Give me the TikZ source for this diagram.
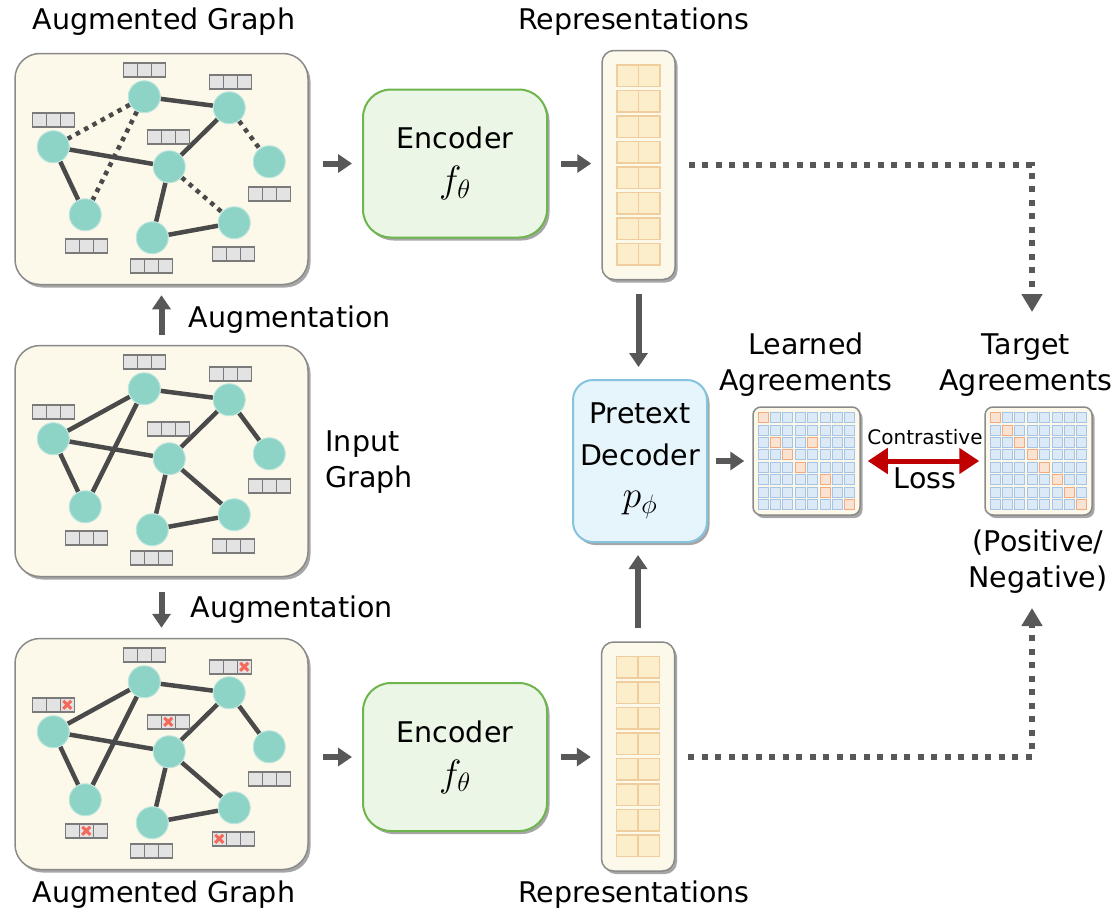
\RequirePackage{fix-cm}
\documentclass[tikz,border=0pt]{standalone}
\usepackage{fontspec}
\setmainfont{DejaVu Sans}
\usetikzlibrary{positioning,calc,shadows,arrows.meta}

\definecolor{graphfill}{HTML}{FDF9EA}
\definecolor{boxline}{HTML}{8A8A8A}
\definecolor{vtxfill}{HTML}{8DD3C6}
\definecolor{edgegray}{HTML}{4A4A4A}
\definecolor{featfill}{HTML}{E3E3E3}
\definecolor{featdraw}{HTML}{7A7A7A}
\definecolor{encfill}{HTML}{EBF6E7}
\definecolor{encline}{HTML}{6DB54C}
\definecolor{decfill}{HTML}{E6F5FB}
\definecolor{decline}{HTML}{86C3DF}
\definecolor{cellfill}{HTML}{FDEECB}
\definecolor{cellline}{HTML}{EFCD9C}
\definecolor{bluefill}{HTML}{DCE9F6}
\definecolor{blueline}{HTML}{A6C4E6}
\definecolor{orfill}{HTML}{FBE3D3}
\definecolor{orline}{HTML}{F2AA7E}
\definecolor{arrgray}{HTML}{585858}
\definecolor{lossred}{HTML}{C00000}
\definecolor{crossred}{HTML}{F4695A}

\pgfdeclarelayer{back}
\pgfdeclarelayer{edges}
\pgfsetlayers{back,edges,main}

% big math symbol under a box title
\newcommand{\bigmath}[1]{{\fontsize{38}{38}\selectfont$#1$}}

% graph inside box #2, node names start with #1
\newcommand{\drawgraph}[2]{
  \begin{scope}[shift={(#2.north west)}]
    \foreach \n/\x/\y/\fx/\fy in {1/130/44/130/17, 2/215/55/216/29, 3/39/94/39/67, 4/155/114/154/84,
                                   5/255/109/255/141, 6/71/162/72/193, 7/138/185/137/213, 8/220/170/219/201}{
      \node[vtx] (#1v\n) at (\x,\y) {};
      \node[feat] (#1f\n) at (\fx,\fy) {};
      \draw[featsep] ([xshift=-7pt]#1f\n.north) -- ([xshift=-7pt]#1f\n.south)
                     ([xshift=7pt]#1f\n.north) -- ([xshift=7pt]#1f\n.south);
    }
  \end{scope}
}

% 8x2 cells of a representation
\newcommand{\reprcells}[1]{
  \foreach \k in {0,...,7}
    \foreach \s in {-1,1}
      \draw[rcell] ([xshift=\s*10.75pt,yshift=(3.5-\k)*25.5pt]#1.center) +(-10.75,-10.75) rectangle +(10.75,10.75);
}

% 8x8 agreement matrix, #2 = orange cells row/col
\newcommand{\matcells}[2]{
  \foreach \r in {0,...,7}
    \foreach \c in {0,...,7}
      \draw[bcell] ([xshift=(\c-3.5)*12.4pt,yshift=(3.5-\r)*12.4pt]#1.center) +(-5,-5) rectangle +(5,5);
  \foreach \r/\c in {#2}
    \draw[ocell] ([xshift=(\c-3.5)*12.4pt,yshift=(3.5-\r)*12.4pt]#1.center) +(-5,-5) rectangle +(5,5);
}

\begin{document}
\begin{tikzpicture}[x=1pt,y=-1pt,
  every node/.style={font=\fontsize{28.5}{36}\selectfont},
  soft/.style={drop shadow={shadow xshift=2.5pt,shadow yshift=-3pt,opacity=.35,fill=black}},
  gbox/.style={draw=boxline,line width=1.5pt,fill=graphfill,rounded corners=25pt,
               minimum width=293pt,minimum height=231pt,soft},
  vtx/.style={circle,fill=vtxfill,draw=vtxfill!60!white,line width=1pt,minimum size=32pt,inner sep=0pt},
  feat/.style={rectangle,draw=featdraw,fill=featfill,line width=1.5pt,minimum width=42pt,
               minimum height=14pt,inner sep=0pt},
  featsep/.style={draw=featdraw,line width=1.5pt},
  edge/.style={draw=edgegray,line width=4.5pt},
  dotedge/.style={dash pattern=on 4.5pt off 5pt},
  xmark/.style={draw=crossred,line width=3pt},
  encbox/.style={draw=encline,line width=2pt,fill=encfill,rounded corners=28pt,minimum width=184pt,
                 minimum height=148pt,align=center,soft,font=\fontsize{28.5}{44}\selectfont},
  decbox/.style={draw=decline,line width=2pt,fill=decfill,rounded corners=20pt,minimum width=134pt,
                 minimum height=162pt,align=center,soft,font=\fontsize{28.5}{42}\selectfont},
  reprbox/.style={draw=boxline,line width=1.5pt,fill=graphfill,rounded corners=12pt,minimum width=73pt,
                  minimum height=229pt,soft},
  rcell/.style={draw=cellline,fill=cellfill,line width=1.5pt},
  matbox/.style={draw=boxline,line width=1.5pt,fill=graphfill,rounded corners=8pt,minimum width=107pt,
                 minimum height=108pt,soft},
  bcell/.style={draw=blueline,fill=bluefill,line width=1pt},
  ocell/.style={draw=orline,fill=orfill,line width=1pt},
  arr/.style={draw=arrgray,line width=6pt,-{Triangle[width=18pt,length=14pt]}},
  dotarr/.style={draw=arrgray,line width=6pt,dash pattern=on 6pt off 7.5pt,-{Triangle[width=20pt,length=18pt]}},
  loss/.style={draw=lossred,line width=5pt,{Triangle[width=25pt,length=20pt]}-{Triangle[width=25pt,length=20pt]}}
]
\useasboundingbox (0,0) rectangle (1119,918);

% Graph boxes
\begin{pgfonlayer}{back}
  \node[gbox] (gtop) at (161.5,169) {};
  \node[gbox] (gmid) at (161.5,461) {};
  \node[gbox] (gbot) at (161.5,754) {};
\end{pgfonlayer}

\drawgraph{top}{gtop}
\drawgraph{mid}{gmid}
\drawgraph{bot}{gbot}

% Edges
\begin{pgfonlayer}{edges}
  \foreach \a/\b in {1/2,3/4,3/6,2/4,4/7,7/8}
    \draw[edge] (topv\a) -- (topv\b);
  \foreach \a/\b in {1/3,1/6,2/5,4/8}
    \draw[edge,dotedge] (topv\a) -- (topv\b);
  \foreach \g in {mid,bot}
    \foreach \a/\b in {1/2,1/3,1/6,3/4,3/6,2/4,2/5,4/7,4/8,7/8}
      \draw[edge] (\g v\a) -- (\g v\b);
\end{pgfonlayer}

% Masked features
\foreach \f/\k in {2/1,3/1,4/0,6/0,8/-1}
  \draw[xmark] ([xshift=\k*14pt]botf\f.center) +(-4,-4) -- +(4,4) +(-4,4) -- +(4,-4);

% Graph labels
\node (augtoplbl) at (164,22) {Augmented Graph};
\node (augbotlbl) at (164,895) {Augmented Graph};
\node[anchor=west,align=left] (inlbl) at (322,462) {Input\\Graph};
\node[anchor=west] (augup) at (185,320) {Augmentation};
\node[anchor=west] (augdown) at (187,610) {Augmentation};

% Encoders and representations
\node[encbox] (enctop) at (455,163.5) {Encoder\\\bigmath{f_\theta}};
\node[encbox] (encbot) at (455,757) {Encoder\\\bigmath{f_\theta}};
\node[reprbox] (reprtop) at (638.5,165) {};
\node[reprbox] (reprbot) at (638,756.5) {};
\reprcells{reprtop}
\reprcells{reprbot}
\node (reprtoplbl) at (634,22) {Representations};
\node (reprbotlbl) at (634,895) {Representations};

% Decoder and agreements
\node[decbox] (dec) at (640,461) {Pretext\\Decoder\\\bigmath{p_\phi}};
\node[matbox] (lrn) at (806.5,461) {};
\node[matbox] (tgt) at (1038.5,461) {};
\matcells{lrn}{0/0,2/1,2/4,3/2,4/3,5/5,6/5,7/7}
\matcells{tgt}{0/0,1/1,2/2,3/3,4/4,5/5,6/6,7/7}
\node[align=center] (lrnlbl) at (806,365) {Learned\\Agreements};
\node[align=center] (tgtlbl) at (1026,365) {Target\\Agreements};
\node[align=center] (pnlbl) at (1038,562) {(Positive/\\Negative)};
\node[font=\fontsize{20}{24}\selectfont] (contr) at (925,437) {Contrastive};
\node (losslbl) at (925,478) {Loss};

% Arrows
\draw[arr,shorten <=14pt,shorten >=10pt] (gtop.east |- enctop.west) -- (enctop.west);
\draw[arr,shorten <=13pt,shorten >=10pt] (enctop.east) -- (enctop.east -| reprtop.west);
\draw[arr,shorten <=14pt,shorten >=10pt] (gbot.east |- encbot.west) -- (encbot.west);
\draw[arr,shorten <=13pt,shorten >=10pt] (encbot.east) -- (encbot.east -| reprbot.west);
\draw[arr,shorten <=10pt,shorten >=10pt] (gmid.north) -- (gtop.south);
\draw[arr,shorten <=15pt,shorten >=10pt] (gmid.south) -- (gbot.north);
\draw[arr,shorten <=14pt,shorten >=12pt] (reprtop.south) -- (reprtop.south |- dec.north);
\draw[arr,shorten <=13pt,shorten >=12pt] (reprbot.north) -- (reprbot.north |- dec.south);
\draw[arr,shorten <=8pt,shorten >=8pt] (dec.east |- lrn.west) -- (lrn.west);
\draw[loss,shorten <=7pt,shorten >=5pt] (lrn.east) -- (tgt.west);

% Dotted targets
\coordinate (tend) at (1032,312);
\coordinate (bend) at (1032,608);
\draw[dotarr,shorten <=13pt] (reprtop.east) -| (tend);
\draw[dotarr,shorten <=13pt] (reprbot.east) -| (bend);

\end{tikzpicture}
\end{document}
